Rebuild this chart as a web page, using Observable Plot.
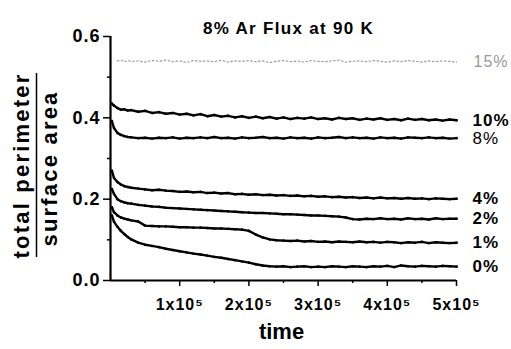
<!DOCTYPE html>
<html><head><meta charset="utf-8">
<script src="https://cdn.jsdelivr.net/npm/d3@7"></script>
<script src="https://cdn.jsdelivr.net/npm/@observablehq/plot@0.6"></script>
<style>
body{margin:0;background:#fff;}
#chart svg{font-family:"Liberation Sans",Arial,sans-serif;}
.ylab text{letter-spacing:2.2px;}
.ticklab text{letter-spacing:1px;}
.ttl text{letter-spacing:1.3px;}
</style></head><body><div id="chart"></div>
<script>
const title = "8% Ar Flux at 90 K";
const xLabel = "time";
const yLabelTop = "total perimeter";
const yLabelBottom = "surface area";
const yTicks = [0, 0.2, 0.4, 0.6];
const yMinor = [0.1, 0.3, 0.5];
const xTicks = [1e5, 2e5, 3e5, 4e5, 5e5];
const xMinor = [0.5e5, 1.5e5, 2.5e5, 3.5e5, 4.5e5];
const seriesNames = ["15%", "10%", "8%", "4%", "2%", "1%", "0%"];
// time in units of 1e5
const timesE5 = [0.02,0.05,0.1,0.15,0.2,0.25,0.3,0.4,0.5,0.6,
 0.7,0.8,0.9,1.0,1.1,1.2,1.3,1.4,1.5,1.6,
 1.7,1.8,1.9,2.0,2.1,2.2,2.3,2.4,2.5,2.6,
 2.7,2.8,2.9,3.0,3.1,3.2,3.3,3.4,3.5,3.6,
 3.7,3.8,3.9,4.0,4.1,4.2,4.3,4.4,4.5,4.6,
 4.7,4.8,4.9,5.0];
const s15 = [null,null,0.54,0.542,0.538,0.541,0.539,0.54,0.537,0.541,
 0.539,0.542,0.538,0.54,0.536,0.541,0.539,0.54,0.538,0.542,
 0.537,0.54,0.539,0.541,0.538,0.54,0.536,0.539,0.541,0.538,
 0.54,0.537,0.541,0.539,0.538,0.54,0.542,0.537,0.539,0.54,
 0.538,0.541,0.539,0.537,0.54,0.538,0.541,0.539,0.537,0.54,
 0.538,0.54,0.539,0.537];
const s10 = [0.435,0.43,0.424,0.42,0.421,0.418,0.419,0.415,0.417,0.412,
 0.414,0.41,0.412,0.408,0.41,0.406,0.409,0.404,0.407,0.403,
 0.405,0.401,0.404,0.4,0.403,0.399,0.402,0.398,0.401,0.397,
 0.4,0.398,0.401,0.397,0.399,0.396,0.4,0.397,0.399,0.395,
 0.398,0.396,0.399,0.395,0.397,0.394,0.398,0.395,0.397,0.394,
 0.396,0.393,0.396,0.394];
const s8 = [0.392,0.375,0.363,0.358,0.355,0.353,0.352,0.35,0.351,0.349,
 0.351,0.35,0.352,0.349,0.351,0.35,0.352,0.35,0.353,0.35,
 0.351,0.349,0.352,0.35,0.351,0.353,0.35,0.351,0.349,0.352,
 0.35,0.351,0.349,0.352,0.35,0.351,0.353,0.35,0.352,0.35,
 0.351,0.349,0.352,0.35,0.351,0.349,0.352,0.351,0.35,0.352,
 0.35,0.351,0.349,0.35];
const s4 = [0.27,0.252,0.242,0.236,0.232,0.23,0.228,0.226,0.224,0.222,
 0.223,0.221,0.22,0.218,0.219,0.217,0.218,0.215,0.216,0.214,
 0.215,0.212,0.213,0.211,0.212,0.21,0.211,0.209,0.21,0.208,
 0.209,0.207,0.208,0.206,0.207,0.205,0.206,0.204,0.205,0.203,
 0.204,0.202,0.204,0.202,0.203,0.201,0.203,0.201,0.202,0.2,
 0.202,0.201,0.2,0.201];
const s2 = [0.225,0.213,0.2,0.195,0.192,0.19,0.189,0.186,0.184,0.182,
 0.181,0.179,0.178,0.177,0.176,0.175,0.174,0.173,0.172,0.171,
 0.17,0.169,0.168,0.167,0.166,0.166,0.165,0.164,0.163,0.163,
 0.162,0.161,0.16,0.16,0.159,0.158,0.157,0.155,0.151,0.15,
 0.152,0.151,0.153,0.151,0.152,0.15,0.153,0.151,0.152,0.15,
 0.153,0.151,0.152,0.152];
const s1 = [0.18,0.168,0.16,0.155,0.152,0.15,0.148,0.145,0.135,0.134,
 0.133,0.133,0.132,0.131,0.131,0.13,0.13,0.129,0.128,0.128,
 0.127,0.126,0.125,0.122,0.113,0.106,0.101,0.099,0.098,0.097,
 0.098,0.096,0.097,0.095,0.096,0.094,0.096,0.095,0.094,0.096,
 0.094,0.095,0.093,0.095,0.094,0.092,0.094,0.093,0.095,0.092,
 0.094,0.093,0.092,0.093];
const s0 = [0.16,0.145,0.132,0.122,0.114,0.107,0.101,0.093,0.088,0.085,
 0.082,0.078,0.075,0.072,0.069,0.066,0.064,0.061,0.058,0.056,
 0.053,0.05,0.047,0.044,0.04,0.037,0.035,0.034,0.035,0.033,
 0.034,0.035,0.033,0.034,0.033,0.035,0.034,0.033,0.035,0.034,
 0.033,0.035,0.034,0.036,0.033,0.037,0.035,0.034,0.036,0.035,
 0.034,0.036,0.035,0.034];
const seriesValues = [s15, s10, s8, s4, s2, s1, s0];

const data = [];
seriesNames.forEach((name, i) => seriesValues[i].forEach((v, j) => {
  if (v != null) data.push({series: name, t: timesE5[j] * 1e5, v});
}));
const grayData = data.filter(d => d.series === "15%");
const blackData = data.filter(d => d.series !== "15%");
const ends = seriesNames.map((n, i) => ({series: n, t: timesE5[timesE5.length - 1] * 1e5, v: seriesValues[i][seriesValues[i].length - 1]}));
const boldLabels = ends.filter(d => d.series !== "15%" && d.series !== "8%");
const plainLabels = ends.filter(d => d.series === "8%");
const grayLabels = ends.filter(d => d.series === "15%");

const plot = Plot.plot({
  width: 511, height: 349,
  marginLeft: 110, marginRight: 55, marginTop: 36, marginBottom: 69,
  style: {fontFamily: "Liberation Sans, Arial, sans-serif", background: "#fff", color: "#000"},
  x: {domain: [0, 5e5]},
  y: {domain: [0, 0.6]},
  marks: [
    Plot.axisY({ticks: yTicks, tickFormat: d3.format(".1f"), tickSize: 7, tickPadding: 3, fontSize: 18, fontWeight: "bold", strokeWidth: 1.5, label: null, className: "ticklab"}),
    Plot.axisY({ticks: yMinor, tickFormat: () => "", tickSize: 3, strokeWidth: 1.5, label: null}),
    Plot.axisX({ticks: xTicks, tickFormat: d => `${d / 1e5}x10⁵`, tickSize: 6, tickPadding: 12, fontSize: 16, fontWeight: "bold", strokeWidth: 1.5, label: null, className: "ticklab"}),
    Plot.axisX({ticks: xMinor, tickFormat: () => "", tickSize: 3, strokeWidth: 1.5, label: null}),
    Plot.ruleX([0], {strokeWidth: 2.2}),
    Plot.ruleY([0], {strokeWidth: 2.2}),
    Plot.line(grayData, {x: "t", y: "v", stroke: "#9a9a9a", strokeWidth: 1.2, strokeDasharray: "1.5,2.5"}),
    Plot.line(blackData, {x: "t", y: "v", z: "series", stroke: "#000", strokeWidth: 2.4}),
    Plot.dot(blackData, {x: "t", y: "v", r: 1.3, fill: "#000"}),
    Plot.text(boldLabels, {x: "t", y: "v", text: "series", dx: 16, textAnchor: "start", fontSize: 17, fontWeight: "bold", className: "ticklab"}),
    Plot.text(plainLabels, {x: "t", y: "v", text: "series", dx: 16, textAnchor: "start", fontSize: 17, className: "ticklab"}),
    Plot.text(grayLabels, {x: "t", y: "v", text: "series", dx: 17, textAnchor: "start", fontSize: 16, fill: "#999", className: "ticklab"}),
    Plot.text([title], {frameAnchor: "top", dx: 5, dy: -15, fontSize: 17, fontWeight: "bold", className: "ttl"}),
    Plot.text([xLabel], {frameAnchor: "bottom", dx: -2, dy: 58, fontSize: 22, fontWeight: "bold"}),
    Plot.text([yLabelTop], {frameAnchor: "left", textAnchor: "middle", rotate: -90, dx: -89, dy: 7, fontSize: 22, fontWeight: "bold", className: "ylab"}),
    Plot.text([yLabelBottom], {frameAnchor: "left", textAnchor: "middle", rotate: -90, dx: -61, dy: 10, fontSize: 22, fontWeight: "bold", className: "ylab"}),
    Plot.ruleX([0], {dx: -74, insetTop: 37, insetBottom: 23, strokeWidth: 1.5})
  ]
});
document.getElementById("chart").appendChild(plot);
</script></body></html>
